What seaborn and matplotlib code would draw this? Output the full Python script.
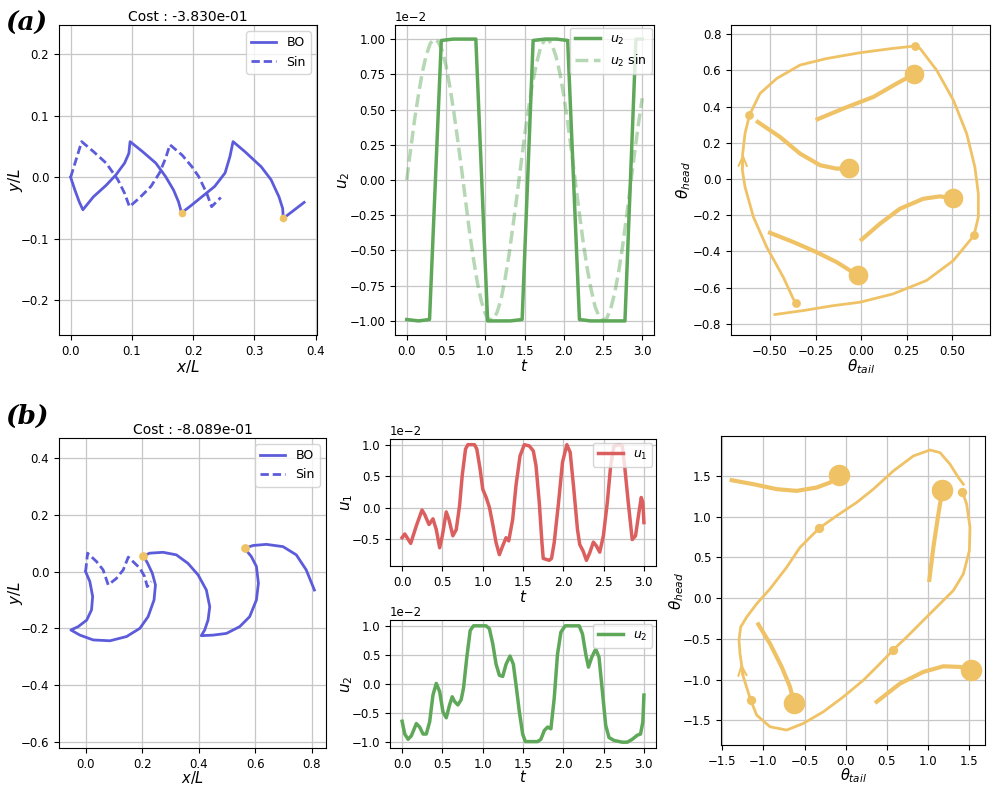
import matplotlib
matplotlib.use("Agg")
import matplotlib.pyplot as plt
import seaborn as sns
import pandas as pd

plt.rcParams.update({
    "xtick.labelsize": 8.5,
    "ytick.labelsize": 8.5,
    "legend.fontsize": 9,
    "axes.labelsize": 11,
    "axes.titlesize": 10,
})

# ---- colours
BLUE = "#5c5cdb"
ORANGE = "#f0c266"
GREEN = "#5fa85a"
RED = "#dc5f5f"

# ---- (a) swimmer trajectory
bo_a_x = [0.0, 0.007, 0.014, 0.020, 0.037, 0.058, 0.074, 0.088, 0.095, 0.097, 0.117, 0.139, 0.155,
          0.168, 0.176, 0.181, 0.198, 0.209, 0.235, 0.252, 0.260, 0.265, 0.284, 0.311, 0.327, 0.340,
          0.346, 0.347, 0.381]
bo_a_y = [0.0, -0.021, -0.040, -0.053, -0.032, -0.013, 0.004, 0.023, 0.039, 0.058, 0.042, 0.023, 0.001,
          -0.021, -0.040, -0.058, -0.045, -0.036, -0.015, 0.007, 0.034, 0.058, 0.042, 0.017, -0.004,
          -0.032, -0.051, -0.067, -0.041]
sin_a_x = [0.0, 0.018, 0.037, 0.058, 0.077, 0.088, 0.096, 0.112, 0.131, 0.145, 0.155, 0.162, 0.182,
           0.198, 0.209, 0.222, 0.230, 0.245]
sin_a_y = [0.0, 0.058, 0.042, 0.023, -0.004, -0.026, -0.048, -0.034, -0.015, 0.007, 0.031, 0.053,
           0.036, 0.017, 0.001, -0.026, -0.048, -0.033]
dots_a_x = [0.181, 0.347]
dots_a_y = [-0.058, -0.067]

# ---- (a) control
u2a_t = [0.0, 0.15, 0.29, 0.44, 0.59, 0.73, 0.88, 1.03, 1.17, 1.32, 1.47, 1.61, 1.76, 1.91, 2.05,
         2.20, 2.34, 2.49, 2.63, 2.78, 2.92, 3.0]
u2a_v = [-0.99, -1.0, -0.99, 0.99, 1.0, 1.0, 1.0, -1.0, -1.0, -1.0, -0.99, 0.99, 1.0, 1.0, 0.99,
         -0.99, -1.0, -1.0, -1.0, -1.0, 1.0, 1.0]
u2sin_t = [0.0, 0.05, 0.1, 0.15, 0.2, 0.25, 0.3, 0.35, 0.4, 0.45, 0.5, 0.55, 0.6, 0.65, 0.7, 0.75,
           0.8, 0.85, 0.9, 0.95, 1.0, 1.05, 1.1, 1.15, 1.2, 1.25, 1.3, 1.35, 1.4, 1.45, 1.5, 1.55,
           1.6, 1.65, 1.7, 1.75, 1.8, 1.85, 1.9, 1.95, 2.0, 2.05, 2.1, 2.15, 2.2, 2.25, 2.3, 2.35,
           2.4, 2.45, 2.5, 2.55, 2.6, 2.65, 2.7, 2.75, 2.8, 2.85, 2.9, 2.95, 3.0]
u2sin_v = [0.0, 0.22, 0.43, 0.61, 0.77, 0.89, 0.97, 1.0, 0.98, 0.92, 0.81, 0.66, 0.48, 0.28, 0.07,
           -0.15, -0.37, -0.56, -0.73, -0.86, -0.95, -0.99, -0.99, -0.94, -0.85, -0.71, -0.54, -0.34,
           -0.13, 0.09, 0.31, 0.50, 0.68, 0.82, 0.93, 0.99, 1.0, 0.96, 0.88, 0.76, 0.60, 0.41, 0.20,
           -0.02, -0.24, -0.45, -0.63, -0.78, -0.90, -0.97, -1.0, -0.98, -0.91, -0.80, -0.65, -0.47,
           -0.26, -0.04, 0.18, 0.39, 0.58]

# ---- (a) phase portrait
loop_a_tail = [-0.359, -0.372, -0.427, -0.518, -0.591, -0.637, -0.652, -0.650, -0.637, -0.613, -0.555,
               -0.463, -0.335, -0.189, -0.006, 0.176, 0.295, 0.323, 0.414, 0.506, 0.579, 0.624, 0.643,
               0.643, 0.620, 0.597, 0.506, 0.359, 0.176, -0.006, -0.153, -0.317, -0.473]
loop_a_head = [-0.684, -0.662, -0.542, -0.376, -0.210, -0.044, 0.050, 0.140, 0.251, 0.352, 0.472,
               0.555, 0.629, 0.665, 0.697, 0.721, 0.734, 0.721, 0.601, 0.435, 0.251, 0.066, -0.081,
               -0.210, -0.308, -0.339, -0.450, -0.560, -0.634, -0.680, -0.699, -0.726, -0.748]
marks_a_tail = [-0.359, -0.613, 0.295, 0.620]
marks_a_head = [-0.684, 0.352, 0.734, -0.308]
tails_a = {
    "A": ([-0.567, -0.445, -0.335, -0.225, -0.134, -0.067], [0.315, 0.232, 0.140, 0.076, 0.057, 0.061]),
    "B": ([-0.239, -0.098, 0.067, 0.195, 0.290], [0.330, 0.389, 0.453, 0.527, 0.579]),
    "C": ([0.003, 0.103, 0.213, 0.341, 0.432, 0.506], [-0.334, -0.247, -0.164, -0.109, -0.096, -0.105]),
    "D": ([-0.500, -0.372, -0.244, -0.134, -0.061, -0.016], [-0.297, -0.348, -0.404, -0.459, -0.505, -0.529]),
}
big_a_tail = [-0.067, 0.290, 0.506, -0.016]
big_a_head = [0.061, 0.579, -0.105, -0.529]

# ---- (b) swimmer trajectory
bo_b_x = [0.0, 0.015, 0.025, 0.021, 0.004, -0.026, -0.052, -0.020, 0.027, 0.086, 0.145, 0.192, 0.221,
          0.242, 0.247, 0.236, 0.218, 0.204, 0.227, 0.274, 0.321, 0.362, 0.398, 0.427, 0.439, 0.433,
          0.421, 0.409, 0.451, 0.498, 0.545, 0.580, 0.604, 0.611, 0.604, 0.586, 0.562, 0.592, 0.639,
          0.698, 0.745, 0.780, 0.809]
bo_b_y = [0.0, -0.035, -0.088, -0.135, -0.171, -0.194, -0.206, -0.224, -0.241, -0.244, -0.229, -0.200,
          -0.159, -0.100, -0.047, -0.006, 0.032, 0.055, 0.065, 0.068, 0.059, 0.029, -0.012, -0.065,
          -0.124, -0.171, -0.206, -0.226, -0.224, -0.218, -0.194, -0.159, -0.100, -0.041, 0.018,
          0.053, 0.082, 0.092, 0.096, 0.088, 0.059, 0.006, -0.065]
sin_b_x = [0.0, 0.007, 0.039, 0.062, 0.080, 0.109, 0.133, 0.151, 0.168, 0.192, 0.209, 0.218, 0.232]
sin_b_y = [0.0, 0.065, 0.035, 0.006, -0.047, -0.024, 0.006, 0.051, 0.035, 0.012, -0.018, -0.053, -0.035]
dots_b_x = [0.204, 0.562]
dots_b_y = [0.055, 0.082]

# ---- (b) controls
u1_t = [0.0, 0.033, 0.107, 0.177, 0.247, 0.280, 0.334, 0.383, 0.424, 0.466, 0.499, 0.548, 0.581, 0.630,
        0.672, 0.713, 0.746, 0.787, 0.816, 0.898, 0.927, 0.968, 1.001, 1.043, 1.084, 1.125, 1.166,
        1.207, 1.248, 1.290, 1.323, 1.372, 1.413, 1.463, 1.516, 1.578, 1.628, 1.661, 1.702, 1.735,
        1.751, 1.825, 1.854, 1.887, 1.941, 1.990, 2.044, 2.085, 2.126, 2.176, 2.204, 2.245, 2.287,
        2.328, 2.373, 2.410, 2.452, 2.497, 2.546, 2.588, 2.629, 2.691, 2.732, 2.765, 2.806, 2.855,
        2.896, 2.938, 2.967, 2.987, 3.0]
u1_v = [-0.48, -0.42, -0.57, -0.29, -0.04, -0.11, -0.27, -0.18, -0.35, -0.64, -0.45, -0.07, -0.19,
        -0.45, -0.35, 0.03, 0.51, 0.93, 1.0, 1.0, 0.93, 0.61, 0.29, 0.16, 0.0, -0.27, -0.56, -0.75,
        -0.61, -0.48, -0.53, -0.19, 0.35, 0.82, 1.0, 0.98, 0.90, 0.67, 0.08, -0.56, -0.81, -0.84,
        -0.81, -0.56, 0.08, 0.72, 1.0, 0.88, 0.35, -0.35, -0.59, -0.69, -0.84, -0.72, -0.55, -0.61,
        -0.71, -0.45, 0.08, 0.67, 0.98, 1.0, 0.98, 0.61, 0.08, -0.51, -0.45, -0.08, 0.16, 0.08, -0.24]
u2b_t = [0.0, 0.033, 0.074, 0.115, 0.177, 0.218, 0.260, 0.300, 0.342, 0.383, 0.424, 0.466, 0.507,
         0.548, 0.589, 0.622, 0.651, 0.692, 0.733, 0.762, 0.803, 0.845, 0.886, 1.042, 1.083, 1.125,
         1.166, 1.207, 1.248, 1.290, 1.339, 1.380, 1.413, 1.455, 1.496, 1.529, 1.681, 1.722, 1.764,
         1.805, 1.846, 1.887, 1.928, 1.970, 2.023, 2.197, 2.238, 2.279, 2.312, 2.353, 2.402, 2.443,
         2.485, 2.526, 2.567, 2.629, 2.732, 2.794, 2.856, 2.918, 2.958, 2.987, 3.0]
u2b_v = [-0.64, -0.86, -0.95, -0.89, -0.68, -0.74, -0.86, -0.86, -0.65, -0.19, 0.01, -0.13, -0.48,
         -0.58, -0.36, -0.22, -0.30, -0.36, -0.27, -0.07, 0.46, 0.92, 1.0, 1.0, 0.95, 0.69, 0.34, 0.15,
         0.13, 0.34, 0.48, 0.34, -0.01, -0.48, -0.86, -0.99, -0.99, -0.95, -0.80, -0.74, -0.77, -0.25,
         0.51, 0.89, 1.0, 1.0, 0.86, 0.51, 0.29, 0.46, 0.60, 0.46, -0.13, -0.71, -0.92, -0.97, -1.0,
         -1.0, -0.95, -0.88, -0.86, -0.65, -0.19]

# ---- (b) phase portrait
loop_b_tail = [1.419, 1.471, 1.512, 1.504, 1.431, 1.309, 1.147, 0.944, 0.742, 0.580, 0.418, 0.215,
               -0.028, -0.272, -0.515, -0.717, -0.920, -1.082, -1.155, -1.244, -1.285, -1.297, -1.277,
               -1.204, -1.082, -0.920, -0.717, -0.555, -0.393, -0.320, -0.109, 0.134, 0.336, 0.580,
               0.823, 1.026, 1.147, 1.269, 1.370, 1.431]
loop_b_head = [1.310, 1.155, 0.869, 0.584, 0.298, 0.094, -0.069, -0.273, -0.478, -0.633, -0.804,
               -1.008, -1.212, -1.396, -1.539, -1.620, -1.580, -1.437, -1.253, -0.967, -0.682, -0.518,
               -0.355, -0.233, -0.069, 0.114, 0.380, 0.624, 0.788, 0.861, 1.012, 1.176, 1.339, 1.563,
               1.747, 1.820, 1.788, 1.645, 1.482, 1.400]
marks_b_tail = [1.419, 0.580, -1.155, -0.320]
marks_b_head = [1.310, -0.633, -1.253, 0.861]
tails_b = {
    "A": ([-1.386, -1.123, -0.839, -0.596, -0.353, -0.191, -0.077], [1.449, 1.400, 1.339, 1.318, 1.359, 1.420, 1.510]),
    "B": ([1.017, 1.066, 1.127, 1.176], [0.224, 0.624, 1.033, 1.331]),
    "C": ([-1.062, -0.920, -0.778, -0.677, -0.628], [-0.322, -0.559, -0.845, -1.090, -1.286]),
    "D": ([0.377, 0.661, 0.944, 1.188, 1.391, 1.524], [-1.273, -1.049, -0.906, -0.837, -0.845, -0.886]),
}
big_b_tail = [-0.077, 1.176, -0.628, 1.524]
big_b_head = [1.510, 1.331, -1.286, -0.886]

W, H = 996, 785
fig = plt.figure(figsize=(W / 100, H / 100), dpi=100)


def add_ax(left, top, right, bottom):
    ax = fig.add_axes([left / W, 1 - bottom / H, (right - left) / W, (bottom - top) / H])
    ax.grid(True, color="0.78", lw=0.9)
    ax.set_axisbelow(True)
    return ax


def path(ax, x, y, **kw):
    sns.lineplot(x=x, y=y, sort=False, estimator=None, ax=ax, **kw)
    return ax.lines[-1]


def tails_frame(tails):
    parts = [pd.DataFrame({"x": x, "y": y, "seg": k}) for k, (x, y) in tails.items()]
    return pd.concat(parts, ignore_index=True)


def scaled(v):
    return [val * 1e-2 for val in v]


def sci_axis(ax):
    ax.ticklabel_format(axis="y", style="sci", scilimits=(0, 0))
    ax.yaxis.get_offset_text().set_fontsize(8.5)


# bottom-row x labels sit a little tighter so they stay inside the canvas
LOW = dict(labelpad=-1, fontsize=10.5)

# ===== (a) trajectory
ax = add_ax(59, 25, 317, 335)
path(ax, bo_a_x, bo_a_y, color=BLUE, lw=2, label="BO")
ln = path(ax, sin_a_x, sin_a_y, color=BLUE, lw=2, label="Sin")
ln.set_dashes((3, 1.4))
sns.scatterplot(x=dots_a_x, y=dots_a_y, color=ORANGE, s=30, linewidth=0, ax=ax, zorder=4, legend=False)
ax.set_xlim(-0.019, 0.402)
ax.set_ylim(-0.257, 0.248)
ax.set_xticks([0.0, 0.1, 0.2, 0.3, 0.4])
ax.set_yticks([-0.2, -0.1, 0.0, 0.1, 0.2])
ax.set_xlabel("$x/L$", labelpad=0)
ax.set_ylabel("$y/L$", labelpad=-3)
ax.set_title("Cost : -3.830e-01", pad=3)
ax.legend(loc="upper right")

# ===== (a) control u2
ax = add_ax(395, 25, 654, 335)
path(ax, u2a_t, scaled(u2a_v), color=GREEN, lw=2.5, label="$u_2$")
ln = path(ax, u2sin_t, scaled(u2sin_v), color=GREEN, lw=2.5, alpha=0.45, label="$u_2$ sin")
ln.set_linestyle("--")
ax.set_xlim(-0.15, 3.15)
ax.set_ylim(-0.011, 0.011)
ax.set_xticks([0.0, 0.5, 1.0, 1.5, 2.0, 2.5, 3.0])
ax.set_yticks(scaled([-1.0, -0.75, -0.5, -0.25, 0.0, 0.25, 0.5, 0.75, 1.0]))
sci_axis(ax)
ax.set_xlabel("$t$", labelpad=0)
ax.set_ylabel("$u_2$", labelpad=-2)
ax.legend(loc="upper right", borderaxespad=0.2)

# ===== (a) phase portrait
ax = add_ax(731, 25, 990, 335)
path(ax, loop_a_tail, loop_a_head, color=ORANGE, lw=2)
sns.lineplot(data=tails_frame(tails_a), x="x", y="y", units="seg", estimator=None, sort=False,
             color=ORANGE, lw=3, ax=ax)
sns.scatterplot(x=marks_a_tail, y=marks_a_head, color=ORANGE, s=40, linewidth=0, ax=ax, zorder=4, legend=False)
sns.scatterplot(x=big_a_tail, y=big_a_head, color=ORANGE, s=200, linewidth=0, ax=ax, zorder=4, legend=False)
ax.annotate("", xy=(-0.648, 0.14), xytext=(-0.650, 0.06),
            arrowprops=dict(arrowstyle="->,head_length=0.7,head_width=0.3", color=ORANGE, lw=1.5,
                            shrinkA=0, shrinkB=0))
ax.set_xlim(-0.714, 0.707)
ax.set_ylim(-0.861, 0.85)
ax.set_xticks([-0.5, -0.25, 0.0, 0.25, 0.5])
ax.set_yticks([-0.8, -0.6, -0.4, -0.2, 0.0, 0.2, 0.4, 0.6, 0.8])
ax.set_xlabel(r"$\theta_{tail}$", labelpad=0)
ax.set_ylabel(r"$\theta_{head}$", labelpad=-0.5)

# ===== (b) trajectory
ax = add_ax(59, 438, 326, 748)
path(ax, bo_b_x, bo_b_y, color=BLUE, lw=2, label="BO")
ln = path(ax, sin_b_x, sin_b_y, color=BLUE, lw=2, label="Sin")
ln.set_dashes((3, 1.4))
sns.scatterplot(x=dots_b_x, y=dots_b_y, color=ORANGE, s=40, linewidth=0, ax=ax, zorder=4, legend=False)
ax.set_xlim(-0.094, 0.85)
ax.set_ylim(-0.622, 0.471)
ax.set_xticks([0.0, 0.2, 0.4, 0.6, 0.8])
ax.set_yticks([-0.6, -0.4, -0.2, 0.0, 0.2, 0.4])
ax.set_xlabel("$x/L$", **LOW)
ax.set_ylabel("$y/L$", labelpad=-3)
ax.set_title("Cost : -8.089e-01", pad=3)
ax.legend(loc="upper right")

# ===== (b) control u1
ax = add_ax(390, 439, 656, 566)
path(ax, u1_t, scaled(u1_v), color=RED, lw=2.5, label="$u_1$")
ax.set_xlim(-0.15, 3.15)
ax.set_ylim(-0.0093, 0.0109)
ax.set_xticks([0.0, 0.5, 1.0, 1.5, 2.0, 2.5, 3.0])
ax.set_yticks(scaled([-0.5, 0.0, 0.5, 1.0]))
sci_axis(ax)
ax.set_xlabel("$t$", labelpad=0)
ax.set_ylabel("$u_1$", labelpad=-2)
ax.legend(loc="upper right", borderaxespad=0.3)

# ===== (b) control u2
ax = add_ax(390, 620, 656, 748)
path(ax, u2b_t, scaled(u2b_v), color=GREEN, lw=2.5, label="$u_2$")
ax.set_xlim(-0.15, 3.15)
ax.set_ylim(-0.011, 0.011)
ax.set_xticks([0.0, 0.5, 1.0, 1.5, 2.0, 2.5, 3.0])
ax.set_yticks(scaled([-1.0, -0.5, 0.0, 0.5, 1.0]))
sci_axis(ax)
ax.set_xlabel("$t$", **LOW)
ax.set_ylabel("$u_2$", labelpad=-2)
ax.legend(loc="upper right", borderaxespad=0.3)

# ===== (b) phase portrait
ax = add_ax(721, 436, 985, 745)
path(ax, loop_b_tail, loop_b_head, color=ORANGE, lw=2)
sns.lineplot(data=tails_frame(tails_b), x="x", y="y", units="seg", estimator=None, sort=False,
             color=ORANGE, lw=3, ax=ax)
sns.scatterplot(x=marks_b_tail, y=marks_b_head, color=ORANGE, s=45, linewidth=0, ax=ax, zorder=4, legend=False)
sns.scatterplot(x=big_b_tail, y=big_b_head, color=ORANGE, s=240, linewidth=0, ax=ax, zorder=4, legend=False)
ax.annotate("", xy=(-1.27, -0.80), xytext=(-1.255, -0.95),
            arrowprops=dict(arrowstyle="->,head_length=0.7,head_width=0.3", color=ORANGE, lw=1.5,
                            shrinkA=0, shrinkB=0))
ax.set_xlim(-1.516, 1.694)
ax.set_ylim(-1.804, 1.992)
ax.set_xticks([-1.5, -1.0, -0.5, 0.0, 0.5, 1.0, 1.5])
ax.set_yticks([-1.5, -1.0, -0.5, 0.0, 0.5, 1.0, 1.5])
ax.set_xlabel(r"$\theta_{tail}$", labelpad=-1, fontsize=10.5)
ax.set_ylabel(r"$\theta_{head}$", labelpad=-2)

# panel tags
fig.text(0.005, 1 - 23 / H, "(a)", fontsize=19, fontweight="bold", fontstyle="italic",
         family="DejaVu Serif", va="center")
fig.text(0.005, 1 - 416 / H, "(b)", fontsize=19, fontweight="bold", fontstyle="italic",
         family="DejaVu Serif", va="center")

fig.savefig("out.png", dpi=100)
